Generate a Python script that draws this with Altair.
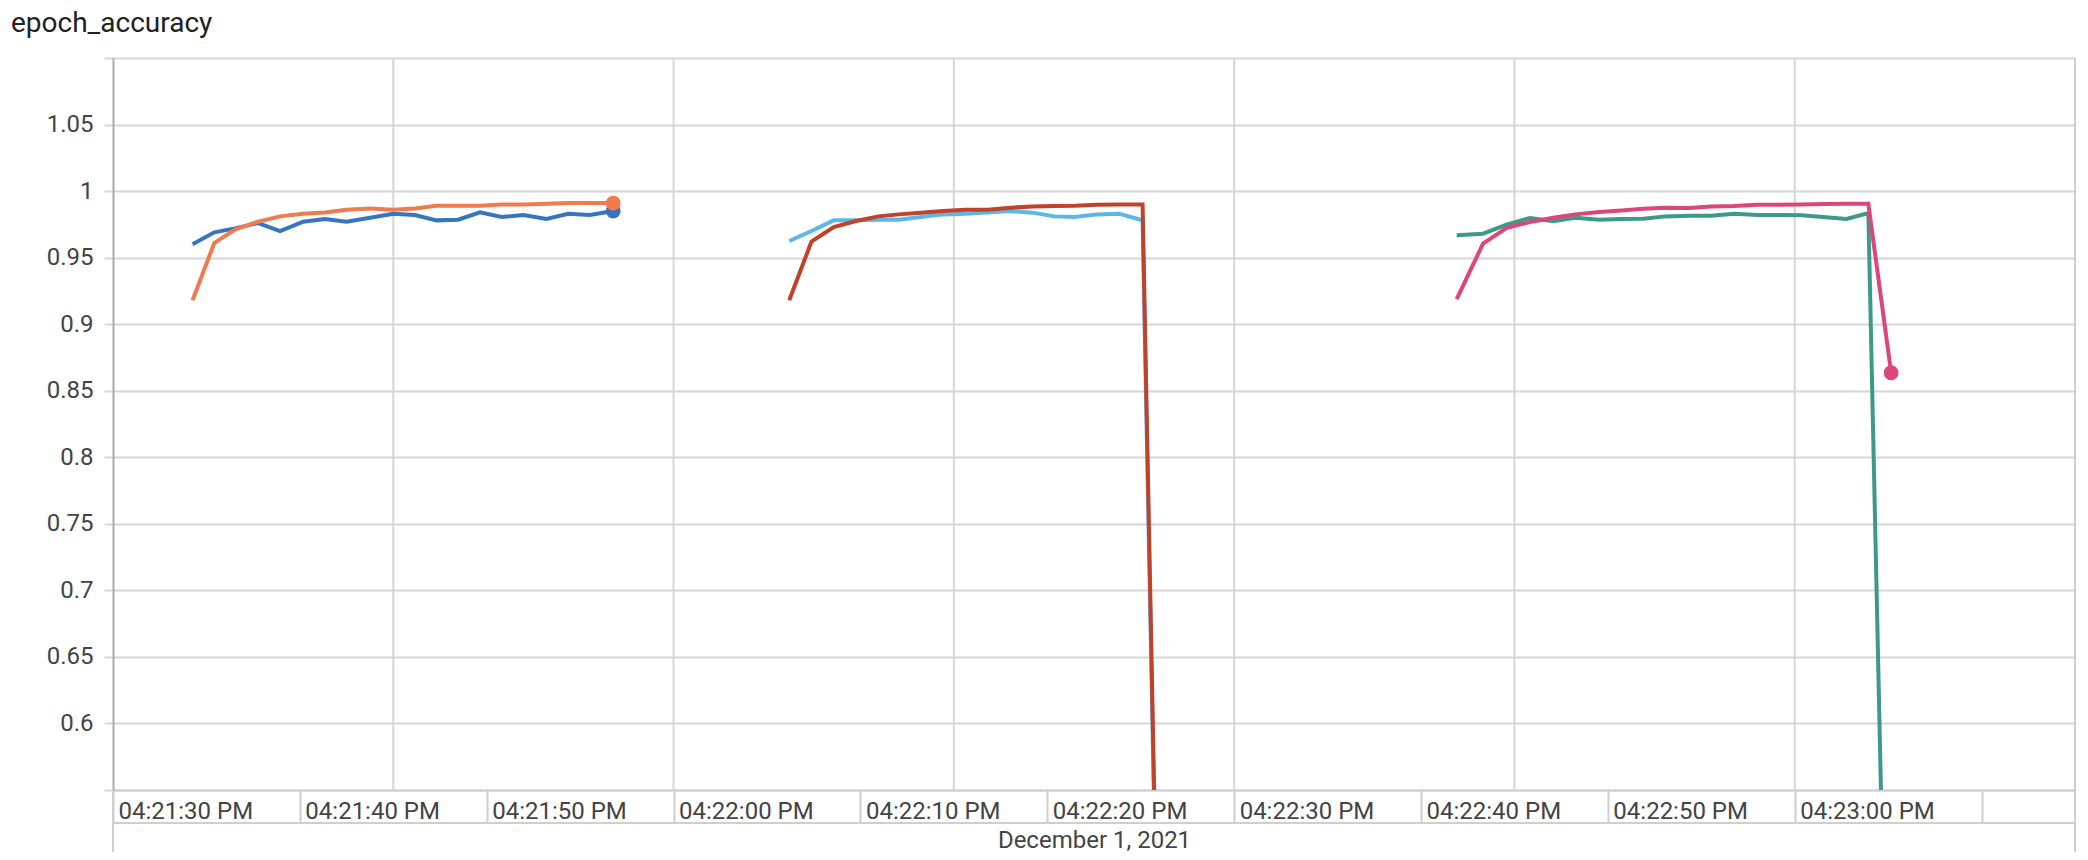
import altair as alt
import pandas as pd

# ---------------- data ----------------
BASE = pd.Timestamp("2021-12-01T16:21:30")   # 04:21:30 PM, December 1, 2021
chart_title = ["epoch_accuracy"]
date_title = "December 1, 2021"

# seconds after 04:21:30 PM
run1_t = [4.26, 5.42, 6.53, 7.77, 8.94, 10.18, 11.34, 12.50, 13.75, 15.00,
          16.16, 17.32, 18.47, 19.64, 20.80, 21.96, 23.20, 24.36, 25.52, 26.77]
run1_validation = [0.960, 0.969, 0.972, 0.976, 0.970, 0.977, 0.979, 0.977, 0.980, 0.983,
                   0.982, 0.978, 0.9785, 0.984, 0.9805, 0.982, 0.979, 0.983, 0.982, 0.985]
run1_train = [0.918, 0.961, 0.971, 0.977, 0.981, 0.983, 0.984, 0.986, 0.987, 0.986,
              0.987, 0.989, 0.989, 0.989, 0.990, 0.990, 0.9905, 0.991, 0.991, 0.991]

run2_t = [36.19, 37.38, 38.57, 39.77, 40.96, 42.04, 43.23, 44.43, 45.62, 46.81,
          48.01, 49.20, 50.39, 51.47, 52.66, 53.86, 55.10, 56.35]
run2_validation = [0.9625, 0.970, 0.978, 0.978, 0.9785, 0.9785, 0.9805, 0.9825, 0.983, 0.984,
                   0.985, 0.9838, 0.981, 0.9805, 0.9825, 0.983, 0.978, 0.08]
run2_train = [0.918, 0.962, 0.973, 0.9775, 0.981, 0.9825, 0.9838, 0.985, 0.986, 0.986,
              0.9875, 0.9885, 0.9888, 0.989, 0.9898, 0.990, 0.990, 0.10]

run3_t = [71.91, 73.32, 74.61, 75.83, 77.08, 78.25, 79.55, 80.72, 81.89, 83.07,
          84.36, 85.53, 86.76, 88.00, 89.17, 90.35, 91.52, 92.77, 93.94, 95.16]
run3_validation = [0.9668, 0.968, 0.975, 0.9798, 0.9773, 0.980, 0.9785, 0.979, 0.9793, 0.981,
                   0.9815, 0.9815, 0.983, 0.982, 0.982, 0.9818, 0.9805, 0.979, 0.9835, 0.20]
run3_train = [0.9188, 0.9605, 0.9725, 0.9768, 0.980, 0.9825, 0.9843, 0.9855, 0.9868, 0.9875,
              0.9873, 0.9885, 0.9888, 0.9898, 0.9898, 0.990, 0.9903, 0.9905, 0.9905, 0.8635]

series_names = ["run1/validation", "run2/validation", "run3/validation",
                "run1/train", "run2/train", "run3/train"]
series_colors = ["#3776bf", "#5cb7e8", "#3d9a89", "#ef7b4f", "#c2412a", "#dd4679"]

# axis ticks / gridlines
y_ticks = [0.55, 0.6, 0.65, 0.7, 0.75, 0.8, 0.85, 0.9, 0.95, 1.0, 1.05, 1.1]
x_label_seconds = [0, 10, 20, 30, 40, 50, 60, 70, 80, 90, 100]
x_grid_seconds = [15, 30, 45, 60, 75, 90]
x_domain_seconds = [0, 105]
y_domain = [0.55, 1.1]


def stamp(sec):
    return (BASE + pd.to_timedelta(sec, unit="s")).strftime("%Y-%m-%dT%H:%M:%S.%f")[:-3]


def dt(sec):
    ts = BASE + pd.to_timedelta(sec, unit="s")
    return alt.DateTime(year=ts.year, month=ts.month, date=ts.day,
                        hours=ts.hour, minutes=ts.minute, seconds=ts.second)


rows = []
for name, ts, vs in [
    ("run1/validation", run1_t, run1_validation),
    ("run1/train", run1_t, run1_train),
    ("run2/validation", run2_t, run2_validation),
    ("run2/train", run2_t, run2_train),
    ("run3/validation", run3_t, run3_validation),
    ("run3/train", run3_t, run3_train),
]:
    for t, v in zip(ts, vs):
        rows.append({"series": name, "t": stamp(t), "v": v})
df = pd.DataFrame(rows)
df_last = df.groupby("series", sort=False).tail(1)
df_bottom = df[df.series.str.endswith("validation")]
df_top = df[df.series.str.endswith("train")]
last_bottom = df_last[df_last.series.str.endswith("validation")]
last_top = df_last[df_last.series.str.endswith("train")]
grid_df = pd.DataFrame({"t": [stamp(s) for s in x_grid_seconds]})
title_df = pd.DataFrame({"label": chart_title})

# ---------------- layout ----------------
W, H = 1962, 732
GRID = "#d6d6d6"
TEXT = "#444444"
FONT = "Roboto"
FS = 24

x_scale = alt.Scale(domain=[dt(s) for s in x_domain_seconds], nice=False)
y_scale = alt.Scale(domain=y_domain, nice=False, zero=False)

x_axis = alt.Axis(
    values=[dt(s) for s in x_label_seconds],
    format="%I:%M:%S %p",
    labelExpr="datum.value > time(datetime(2021, 11, 1, 16, 23, 5)) ? '' : datum.label",
    grid=False,
    domainColor="#cfcfcf", domainWidth=2,
    tickColor="#cfcfcf", tickWidth=2, tickSize=33,
    labelAlign="left", labelBaseline="alphabetic", labelPadding=-5, labelOffset=5,
    labelFontSize=FS, labelColor=TEXT, labelFont=FONT,
    labelFlush=False, labelOverlap=False, labelBound=False,
    title=date_title, titleFontSize=FS, titleColor=TEXT, titleFont=FONT,
    titleFontWeight="normal", titleX=W / 2, titleY=57, titleAlign="center",
    titleBaseline="alphabetic",
)
y_axis = alt.Axis(
    values=y_ticks,
    labelExpr="(datum.value < 0.575 || datum.value > 1.075) ? '' : format(datum.value, '~g')",
    grid=True, gridColor=GRID, gridWidth=2,
    domainColor="#aaaaaa", domainWidth=2,
    tickColor=GRID, tickWidth=2, tickSize=9,
    labelPadding=11, labelFontSize=FS, labelColor=TEXT, labelFont=FONT,
    labelOverlap=False, labelFlush=False, labelBound=False,
    title=None,
)


def X():
    return alt.X("t:T", scale=x_scale, axis=x_axis)


def Y():
    return alt.Y("v:Q", scale=y_scale, axis=y_axis)


color = alt.Color("series:N", scale=alt.Scale(domain=series_names, range=series_colors), legend=None)

one = pd.DataFrame({"k": [0]})

grid_rules = alt.Chart(grid_df).mark_rule(color=GRID, strokeWidth=2).encode(x=X())

box_line = alt.Chart(one).mark_rule(color="#cfcfcf", strokeWidth=2).encode(
    x=alt.value(0), x2=alt.value(W), y=alt.value(765))
right_line = alt.Chart(one).mark_rule(color="#cfcfcf", strokeWidth=2).encode(
    x=alt.value(W), y=alt.value(0), y2=alt.value(H + 62))
left_ext = alt.Chart(one).mark_rule(color="#cfcfcf", strokeWidth=2).encode(
    x=alt.value(0), y=alt.value(H), y2=alt.value(H + 62))

title_text = alt.Chart(title_df).mark_text(
    align="left", baseline="alphabetic", fontSize=28, font=FONT, color="#212121"
).encode(x=alt.value(-102), y=alt.value(-26), text="label:N")

lines_bottom = alt.Chart(df_bottom).mark_line(strokeWidth=4, clip=True).encode(
    x=X(), y=Y(), color=color, detail="series:N")
dots_bottom = alt.Chart(last_bottom).mark_circle(size=220, opacity=1, clip=True).encode(
    x=X(), y=Y(), color=color)
lines_top = alt.Chart(df_top).mark_line(strokeWidth=4, clip=True).encode(
    x=X(), y=Y(), color=color, detail="series:N")
dots_top = alt.Chart(last_top).mark_circle(size=220, opacity=1, clip=True).encode(
    x=X(), y=Y(), color=color)

chart = alt.layer(
    grid_rules, box_line, right_line, left_ext, title_text,
    lines_bottom, dots_bottom, lines_top, dots_top,
).properties(
    width=W, height=H,
    padding={"left": 105, "top": 50, "right": 5, "bottom": 62},
    autosize=alt.AutoSizeParams(type="none"),
).configure_view(strokeWidth=0).configure(font=FONT, background="white")

chart.save("out.html", embed_options={"renderer": "svg", "actions": False})
